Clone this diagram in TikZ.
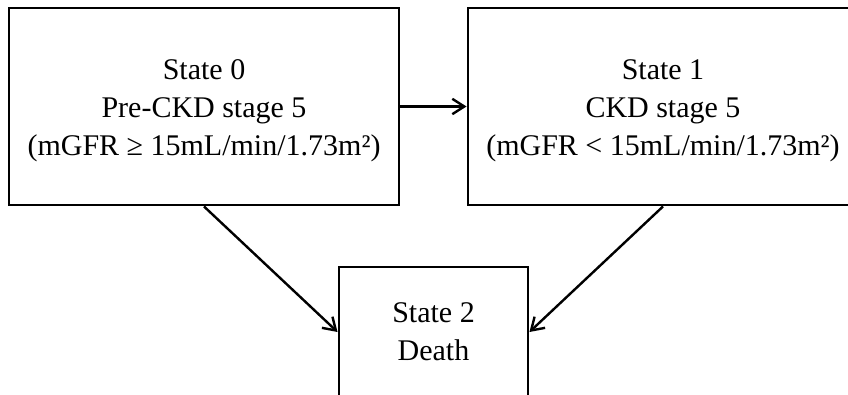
\documentclass[tikz,border=0pt]{standalone}
\usepackage{fontspec}
\setmainfont{Liberation Serif}
\usetikzlibrary{arrows.meta}
\tikzset{
  statebox/.style={draw, line width=2.2pt, inner sep=0pt},
  statetext/.style={align=center, inner sep=0pt, font=\fontsize{22.5}{28.5}\selectfont},
  trans/.style={line width=1.8pt, -{Straight Barb[length=9pt, width=11.5pt, line width=1.8pt]}}
}
\begin{document}
\begin{tikzpicture}[x=0.75pt,y=-0.75pt]
\useasboundingbox (0,0) rectangle (848,395);
\clip (0,0) rectangle (848,395);
\node[statebox, minimum width=390*0.75pt, minimum height=197*0.75pt] (b0) at (204,106.5) {};
\node[statebox, minimum width=390*0.75pt, minimum height=197*0.75pt] (b1) at (663,106.5) {};
\node[statebox, minimum width=189*0.75pt, minimum height=130*0.75pt] (b2) at (433.5,332) {};
\node[statetext] (t0) at (204,111) {State 0\\Pre-CKD stage 5\\(mGFR ≥ 15mL/min/1.73m²)};
\node[statetext] (t1) at (663,111) {State 1\\CKD stage 5\\(mGFR < 15mL/min/1.73m²)};
\node[statetext] (t2) at (433.5,332) {State 2\\Death};
\draw[trans] (b0.east) -- (b1.west);
\draw[trans] (b0.south) -- (b2.west);
\draw[trans] (b1.south) -- (b2.east);
\end{tikzpicture}
\end{document}
